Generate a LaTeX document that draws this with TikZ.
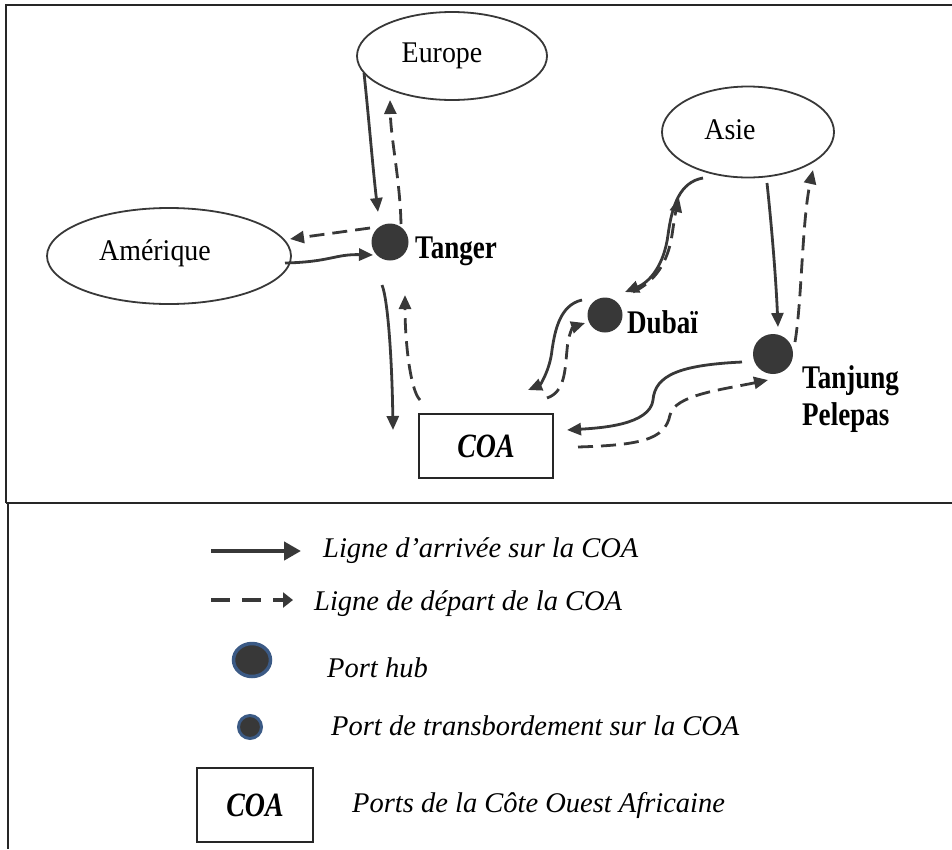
\documentclass[tikz,border=0pt]{standalone}
\usepackage{fontspec}
\setmainfont{Liberation Serif}
\newfontfamily\regfont[FakeStretch=0.93]{Liberation Serif}
\newfontfamily\hubfont[FakeStretch=0.82]{Liberation Serif}
\usetikzlibrary{shapes.geometric,arrows.meta,calc}
\definecolor{ink}{HTML}{383838}
\definecolor{ringblue}{HTML}{3B5A85}
\begin{document}
\begin{tikzpicture}[x=1pt,y=-1pt,
  region/.style={ellipse,draw=ink,line width=1.8pt,inner sep=0pt},
  regtext/.style={font=\regfont\fontsize{30}{32}\selectfont,inner sep=0pt},
  hub/.style={circle,fill=ink,inner sep=0pt,minimum size=#1},
  hublabel/.style={anchor=base west,inner sep=0pt,font=\hubfont\bfseries\fontsize{33}{36}\selectfont},
  arr/.style={draw=ink,line width=2.8pt,-{Triangle[length=14pt,width=12pt]}},
  dep/.style={arr,dash pattern=on 15pt off 8pt},
  legtext/.style={anchor=base west,inner sep=0pt,font=\itshape\fontsize{28.5}{30}\selectfont},
  coabox/.style={draw=black!85,line width=2.2pt,inner sep=0pt,font=\hubfont\bfseries\itshape\fontsize{34}{36}\selectfont},
  frame/.style={draw=black!85,line width=2.2pt}
]
\useasboundingbox (0,0) rectangle (952,849);

% frame
\draw[frame] (952,5) -- (6,5) -- (6,503);
\draw[frame] (6,503) -- (952,503);
\draw[frame] (8,503) -- (8,849);

% regions
\node[region,minimum width=190pt,minimum height=88pt,
      label={[regtext,xshift=-10pt]center:Europe}] (eu) at (452,56) {};
\node[region,minimum width=244pt,minimum height=96pt,
      label={[regtext,xshift=-14pt,yshift=3pt]center:Amérique}] (am) at (169,256) {};
\node[region,minimum width=172pt,minimum height=91pt,
      label={[regtext,xshift=-18pt,yshift=2pt]center:Asie}] (as) at (748,132) {};

% hubs
\node[hub=37pt] (tg) at (390,242) {};
\node[hub=35pt] (db) at (605,315) {};
\node[hub=40pt] (tj) at (773,354) {};
\node[hublabel] (tglab) at (415,258) {Tanger};
\node[hublabel] (dblab) at (627,333) {Dubaï};
\node[hublabel] (tjlab1) at (802,388) {Tanjung};
\node[hublabel] (tjlab2) at (802,425) {Pelepas};

% COA
\node[coabox,minimum width=134pt,minimum height=64pt] (coa) at (486,446) {COA};

% connectors Europe - Tanger
\draw[arr] ($(eu.center)+(-88,17)$) .. controls (369,120) and (373,170) .. ($(tg.center)+(-12,-30)$);
\draw[dep] ($(tg.center)+(11,-18)$) .. controls (400,180) and (391,140) .. ($(eu.center)+(-62,44)$);
% Amerique - Tanger
\draw[dep] ($(tg.center)+(-20,-14)$) -- ($(am.center)+(121,-17)$);
\draw[arr] ($(am.center)+(116,7)$) .. controls (330,262) and (335,254) .. ($(tg.center)+(-17,13)$);
% Tanger - COA
\draw[arr] ($(tg.center)+(-8,43)$) .. controls (388,300) and (392,360) .. ($(coa.center)+(-93,-16)$);
\draw[dep] ($(coa.center)+(-66,-46)$) .. controls (410,390) and (405,340) .. ($(tg.center)+(15,53)$);
% Asie - Dubai
\draw[arr] ($(as.center)+(-45,46)$) .. controls (680,182) and (672,205) .. (668,235)
           .. controls (664,265) and (650,282) .. ($(db.center)+(20,-23)$);
\draw[dep] ($(db.center)+(28,-23)$) .. controls (655,282) and (668,262) .. (672,235)
           .. controls (675,215) .. ($(as.center)+(-69,66)$);
% Asie - Tanjung
\draw[arr] ($(as.center)+(19,51)$) .. controls (772,230) and (776,280) .. ($(tj.center)+(5,-27)$);
\draw[dep] ($(tj.center)+(22,-12)$) .. controls (802,300) and (802,220) .. ($(as.center)+(65,38)$);
% Dubai - COA
\draw[arr] ($(db.center)+(-23,-15)$) .. controls (560,305) and (555,330) .. (552,350)
           .. controls (550,370) and (540,385) .. ($(coa.center)+(42,-56)$);
\draw[dep] ($(coa.center)+(61,-48)$) .. controls (565,392) and (565,370) .. (567,350)
           .. controls (568,335) and (573,327) .. ($(db.center)+(-20,8)$);
% Tanjung - COA
\draw[arr] ($(tj.center)+(-31,8)$) .. controls (680,365) and (655,375) .. (653,400)
           .. controls (650,425) and (600,428) .. ($(coa.center)+(81,-16)$);
\draw[dep] ($(coa.center)+(92,1)$) .. controls (640,445) and (665,440) .. (670,415)
           .. controls (675,395) and (720,390) .. ($(tj.center)+(-5,26)$);

% legend
\coordinate (la1) at (211,551);
\coordinate (lb1) at (301,551);
\coordinate (la2) at (211,600);
\coordinate (lb2) at (293,600);
\draw[ink,line width=4.5pt,-{Triangle[length=17pt,width=18pt]}] (la1) -- (lb1);
\draw[ink,line width=4.5pt,dash pattern=on 19pt off 12pt,-{Triangle[length=10pt,width=15pt]}] (la2) -- (lb2);
\node[legtext] (lt1) at (323,557) {Ligne d'arrivée sur la COA};
\node[legtext] (lt2) at (314,610) {Ligne de départ de la COA};
\node[ellipse,fill=ink,draw=ringblue,line width=3.5pt,minimum width=37pt,minimum height=33pt,inner sep=0pt] (lhub) at (252,660) {};
\node[legtext] (lt3) at (327,677) {Port hub};
\node[circle,fill=ink,draw=ringblue,line width=3pt,minimum size=23pt,inner sep=0pt] (ltr) at (250,727) {};
\node[legtext] (lt4) at (331,735) {Port de transbordement sur la COA};
\node[coabox,minimum width=116pt,minimum height=74pt] (lcoa) at (255,805) {COA};
\node[legtext] (lt5) at (352,812) {Ports de la Côte Ouest Africaine};
\end{tikzpicture}
\end{document}
